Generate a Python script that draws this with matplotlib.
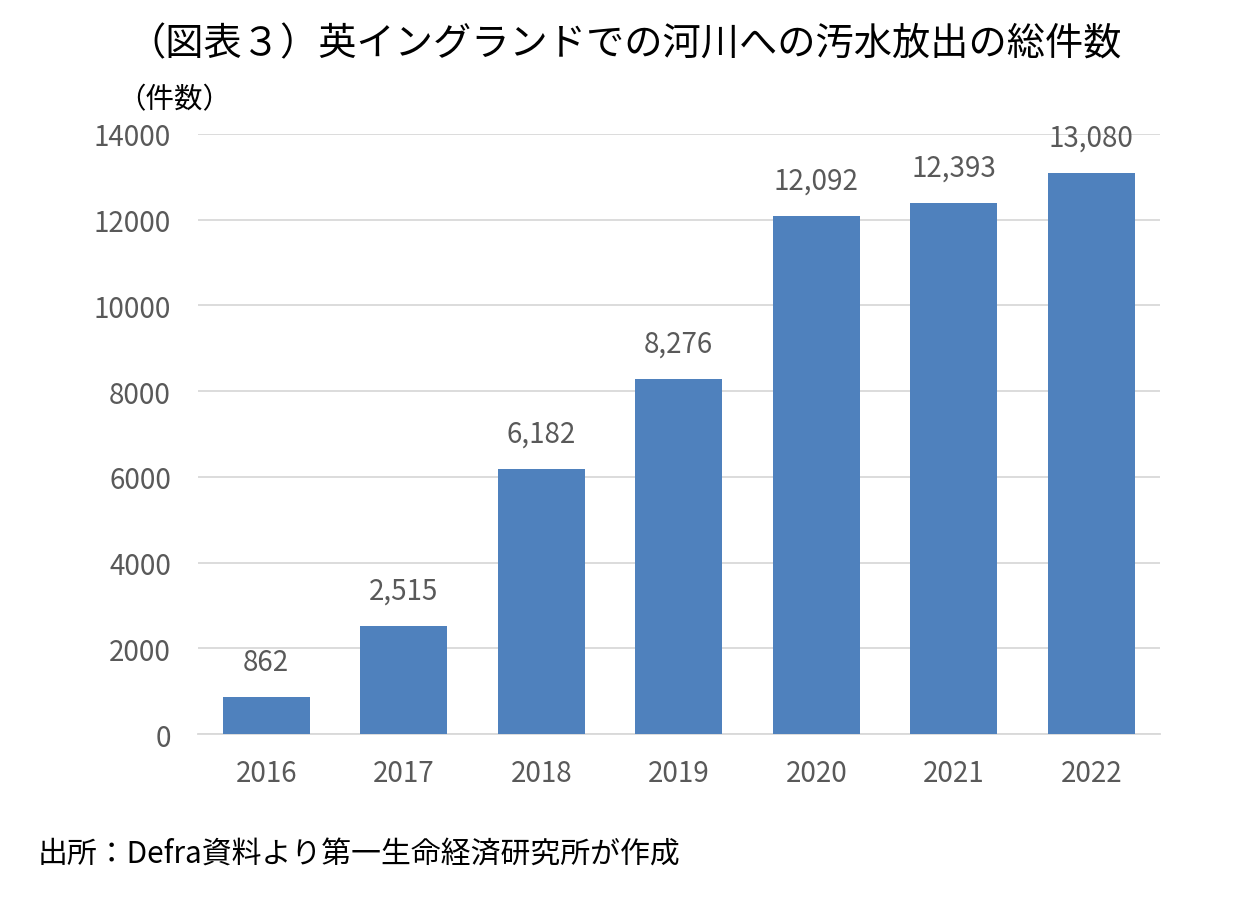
import matplotlib.pyplot as plt

plt.rcParams['font.family'] = ['Noto Sans CJK JP', 'DejaVu Sans']

years = ['2016', '2017', '2018', '2019', '2020', '2021', '2022']
counts = [862, 2515, 6182, 8276, 12092, 12393, 13080]
yticks = [0, 2000, 4000, 6000, 8000, 10000, 12000, 14000]

bar_color = '#4F81BD'
gray = '#595959'

fig = plt.figure(figsize=(12.5, 9.03), dpi=100)
ax = fig.add_axes([0.158, 0.186, 0.77, 0.6645])

x = range(len(years))
bars = ax.bar(x, counts, width=0.63, color=bar_color, zorder=3)
for b, v in zip(bars, counts):
    ax.text(b.get_x() + b.get_width() / 2, v + 480, f'{v:,}',
            ha='center', va='bottom', fontsize=20, color=gray)

ax.set_xlim(-0.5, len(years) - 0.5)
ax.set_ylim(0, 14000)
ax.set_xticks(list(x))
ax.set_xticklabels(years)
ax.set_yticks(yticks)
ax.set_yticklabels([str(t) for t in yticks])
ax.tick_params(axis='both', length=0, labelsize=20, labelcolor=gray)
ax.tick_params(axis='x', pad=17)
ax.tick_params(axis='y', pad=19)
ax.grid(axis='y', color='#D9D9D9', linewidth=1.3, zorder=0)
for s in ['top', 'right', 'left']:
    ax.spines[s].set_visible(False)
ax.spines['bottom'].set_color('#D9D9D9')
ax.spines['bottom'].set_linewidth(1.3)

fig.text(0.5, 0.95, '（図表３）英イングランドでの河川への汚水放出の総件数',
         ha='center', va='center', fontsize=27.5, color='black')
fig.text(0.094, 0.889, '（件数）', ha='left', va='center', fontsize=20.5, color='black')
fig.text(0.03, 0.053, '出所：Defra資料より第一生命経済研究所が作成',
         ha='left', va='center', fontsize=21.5, color='black')

plt.savefig('out.png', dpi=100)
